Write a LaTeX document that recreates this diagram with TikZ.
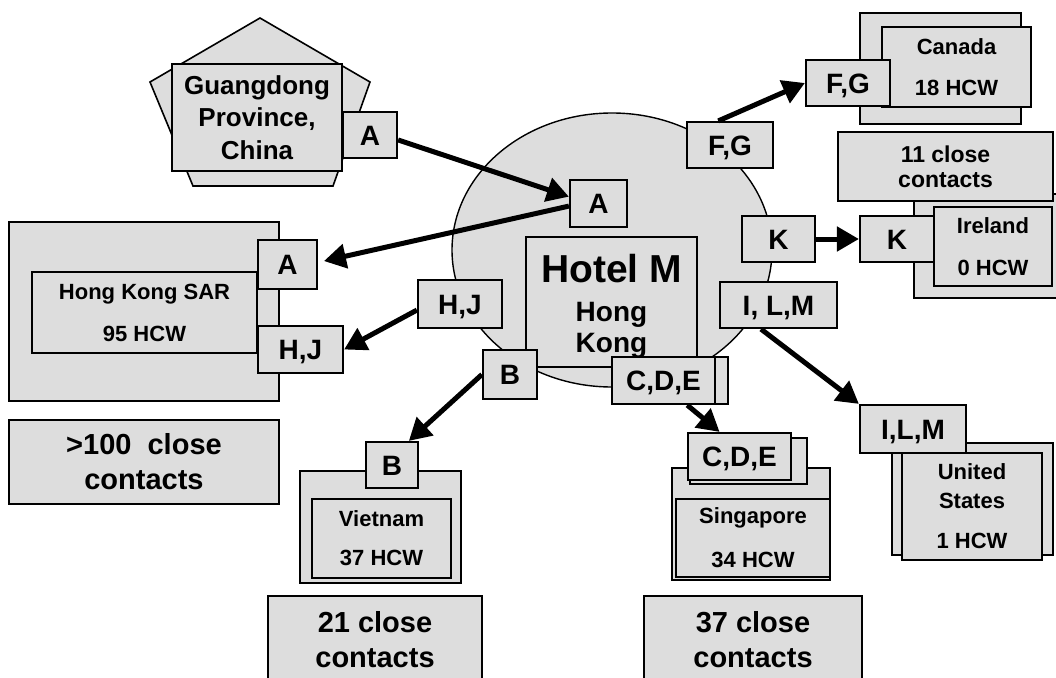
\documentclass[tikz,border=0pt]{standalone}
\usepackage{fontspec}
\setmainfont{Liberation Sans}
\usetikzlibrary{arrows.meta,shapes.geometric}
\definecolor{boxgray}{RGB}{221,221,221}
\newcommand\myfs[2]{\fontsize{#1}{#2}\selectfont\bfseries}
\tikzset{
  bx/.style={draw, fill=boxgray, line width=2.2pt, inner sep=0pt, align=center},
  lab/.style={bx, font=\myfs{28}{32}, text height=20pt, text depth=0pt},
  sz/.style 2 args={minimum width=#1, minimum height=#2},
  arr/.style={line width=5pt, -{Triangle[length=22pt,width=24pt]}},
}
\begin{document}
\begin{tikzpicture}[x=1pt,y=-1pt]
\useasboundingbox (0,0) rectangle (1056,677);

% Guangdong
\draw[fill=boxgray, line width=1.6pt] (260,18) -- (370,82) -- (333,186) -- (193,186) -- (150,82) -- cycle;
\node[bx, sz={170pt}{107pt}, font=\myfs{26}{32.5}] (gd) at (257,117.5) {Guangdong\\Province,\\China};
\node[lab, sz={54pt}{46pt}] (Ag) at (370,135) {A};

% Hotel M
\node[draw, fill=boxgray, ellipse, inner sep=0pt, sz={320pt}{274pt}, line width=1.4pt] (circ) at (612,250) {};
\node[draw, fill=boxgray, line width=1.4pt, inner sep=0pt, sz={171pt}{130pt}] (hotel) at (611.5,302) {};
\node[font=\myfs{39}{44}] (hoteltitle) at (611.5,269) {Hotel M};
\node[font=\myfs{28}{31}, align=center] (hotelcity) at (611.5,330.5) {Hong\\Kong};

% Canada
\node[bx, sz={161pt}{111pt}] (canback) at (940.5,68.5) {};
\node[bx, sz={149pt}{80pt}, font=\myfs{22}{41}] (canada) at (956.5,67) {Canada\\18 HCW};
\node[lab, sz={84pt}{46pt}] (FGcan) at (848,83) {F,G};

% Ireland
\node[bx, sz={148pt}{104pt}] (ireback) at (988,246) {};
\node[bx, sz={215pt}{69pt}, font=\myfs{23}{25}] (cc11) at (945.5,166.5) {11 close\\contacts};
\node[bx, sz={118pt}{79pt}, font=\myfs{22}{42}] (ireland) at (993,246.5) {Ireland\\0 HCW};
\node[lab, sz={74pt}{46pt}] (Kir) at (897,239) {K};

% Hong Kong SAR
\node[bx, sz={270pt}{179pt}] (hkback) at (144,311.5) {};
\node[bx, line width=1.8pt, sz={225pt}{81pt}, font=\myfs{22}{42}] (hksar) at (144.5,312.5) {Hong Kong SAR\\95 HCW};
\node[lab, sz={59pt}{49pt}] (Ahk) at (287.5,264.5) {A};
\node[lab, sz={85pt}{47pt}] (HJhk) at (300.5,349.5) {H,J};
\node[bx, sz={270pt}{84pt}, font=\myfs{29}{35}] (cc100) at (144,462) {>100\ \ close\\contacts};

% Vietnam
\node[bx, sz={161pt}{112pt}] (vnback) at (380.5,527) {};
\node[bx, line width=1.8pt, sz={139pt}{79pt}, font=\myfs{22}{39}] (vietnam) at (381.5,538.5) {Vietnam\\37 HCW};
\node[lab, sz={52pt}{46pt}] (Bv) at (392,465) {B};
\node[bx, sz={214pt}{87pt}, font=\myfs{29}{35}] (cc21) at (375,639.5) {21 close\\contacts};

% Singapore
\node[bx, sz={158pt}{112pt}] (sgback) at (751,524) {};
\node[bx, line width=1.8pt, sz={154pt}{78pt}, font=\myfs{22}{44}] (singapore) at (753,538) {Singapore\\34 HCW};
\node[lab, sz={117pt}{46pt}] (CDEsback) at (748.5,461) {};
\node[lab, sz={103pt}{47pt}] (CDEs) at (739.5,456.5) {C,D,E};
\node[bx, sz={218pt}{87pt}, font=\myfs{29}{35}] (cc37) at (753,639.5) {37 close\\contacts};

% United States
\node[bx, sz={161pt}{112pt}] (usback) at (972.5,499) {};
\node[bx, sz={140pt}{107pt}, font=\myfs{22}{29}] (us) at (972,506.5) {United\\States\\[11pt]1 HCW};
\node[lab, sz={106pt}{48pt}] (ILMus) at (913,429) {I,L,M};

% labels on the hotel circle
\node[lab, sz={57pt}{47pt}] (Ac) at (598.5,203.5) {A};
\node[lab, sz={86pt}{46pt}] (FGc) at (730,145) {F,G};
\node[lab, sz={73pt}{46pt}] (Kc) at (778.5,239) {K};
\node[lab, sz={117pt}{46pt}] (ILMc) at (778.5,305) {I, L,M};
\node[lab, sz={84pt}{48pt}] (HJc) at (460,304) {H,J};
\node[lab, sz={54pt}{49pt}] (Bc) at (510,374.5) {B};
\node[lab, sz={102pt}{47pt}] (CDEcback) at (677,380.5) {};
\node[lab, sz={103pt}{47pt}] (CDEc) at (663.5,380.5) {C,D,E};

% arrows
\draw[arr] (Ag.-10) -- (Ac.167);
\draw[arr, shorten >=6pt] (Ac.185) -- (Ahk.4);
\draw[arr] (FGc.116) -- (FGcan.west);
\draw[arr] (Kc) -- (Kir);
\draw[arr] (ILMc.-126) -- (ILMus.north west);
\draw[arr] (HJc.-172) -- (HJhk.east);
\draw[arr] (Bc.west) -- (Bv.55);
\draw[arr] (CDEc.-46) -- (CDEs.129);
\end{tikzpicture}
\end{document}
